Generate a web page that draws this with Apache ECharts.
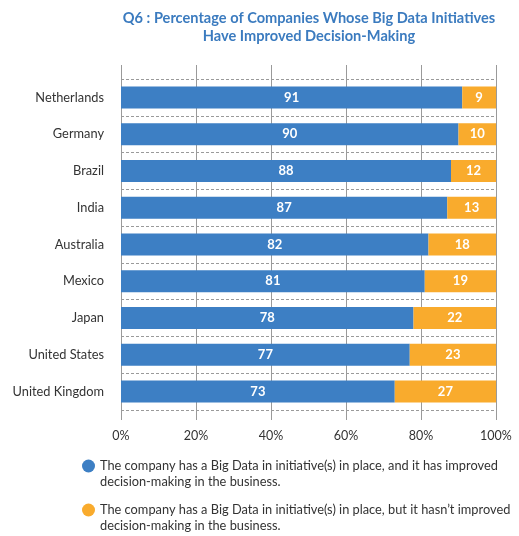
<!DOCTYPE html>
<html>
<head>
<meta charset="utf-8">
<script src="https://cdn.jsdelivr.net/npm/echarts@6/dist/echarts.min.js"></script>
<style>
  html, body { margin: 0; padding: 0; background: #fff; }
  #chart { width: 519px; height: 536px; }
</style>
</head>
<body>
<div id="chart"></div>
<script>
// countries, top to bottom
const countries = ['Netherlands', 'Germany', 'Brazil', 'India', 'Australia', 'Mexico', 'Japan', 'United States', 'United Kingdom'];
// improved decision-making (%)
const improved = [91, 90, 88, 87, 82, 81, 78, 77, 73];
// not improved (%)
const notImproved = [9, 10, 12, 13, 18, 19, 22, 23, 27];
const seriesNames = [
  'The company has a Big Data in initiative(s) in place, and it has improved\ndecision-making in the business.',
  'The company has a Big Data in initiative(s) in place, but it hasn\u2019t improved\ndecision-making in the business.'
];
const titleText = 'Q6 : Percentage of Companies Whose Big Data Initiatives\nHave Improved Decision-Making';

const FONT = 'Lato';
const BLUE = '#3d7fc4';
const ORANGE = '#f9ab2d';

let chart = echarts.init(document.getElementById('chart'));

let barLabel = {
  show: true,
  position: 'inside',
  color: '#fff',
  fontFamily: FONT,
  fontWeight: 'bold',
  fontSize: 13
};

let legendText = {
  fontFamily: FONT,
  fontSize: 12.8,
  color: '#333',
  lineHeight: 16
};

// blank first line so the icon sits beside the first text line
let legendFormatter = name => '\n' + name;

chart.setOption({
  animation: false,
  title: {
    text: titleText,
    left: 304,
    textAlign: 'center',
    top: 4,
    textStyle: {
      fontFamily: FONT,
      fontSize: 14.6,
      fontWeight: 'bold',
      color: '#3b7bbf',
      lineHeight: 18
    }
  },
  legend: [
    {
      data: [seriesNames[0]],
      orient: 'vertical',
      left: 82,
      top: 442,
      padding: 0,
      itemWidth: 13,
      itemHeight: 13,
      icon: 'circle',
      selectedMode: false,
      formatter: legendFormatter,
      textStyle: legendText
    },
    {
      data: [seriesNames[1]],
      orient: 'vertical',
      left: 82,
      top: 486,
      padding: 0,
      itemWidth: 13,
      itemHeight: 13,
      icon: 'circle',
      selectedMode: false,
      formatter: legendFormatter,
      textStyle: legendText
    }
  ],
  grid: [
    // back grid: vertical lines + percent labels
    { left: 121, right: 23, top: 65, bottom: 116 },
    // bars
    { left: 121, right: 23, top: 79, bottom: 126 }
  ],
  xAxis: [
    {
      gridIndex: 0,
      type: 'value',
      min: 0,
      max: 100,
      interval: 20,
      axisLine: { show: false },
      axisTick: { show: false },
      splitLine: { show: true, lineStyle: { color: '#9a9a9a', width: 1, type: 'solid' } },
      axisLabel: {
        formatter: '{value}%',
        margin: 9,
        fontFamily: FONT,
        fontSize: 12.5,
        color: '#333'
      }
    },
    {
      gridIndex: 1,
      type: 'value',
      min: 0,
      max: 100,
      show: false
    }
  ],
  yAxis: [
    {
      gridIndex: 0,
      type: 'value',
      show: false
    },
    {
      gridIndex: 1,
      type: 'category',
      inverse: true,
      data: countries,
      axisLine: { show: false },
      axisTick: { show: false },
      splitLine: { show: true, lineStyle: { color: '#9a9a9a', width: 1, type: [3, 2] } },
      axisLabel: {
        margin: 17,
        fontFamily: FONT,
        fontSize: 12.8,
        color: '#333'
      }
    }
  ],
  series: [
    {
      name: seriesNames[0],
      type: 'bar',
      xAxisIndex: 1,
      yAxisIndex: 1,
      stack: 'total',
      barWidth: 22,
      itemStyle: { color: BLUE },
      label: barLabel,
      data: improved
    },
    {
      name: seriesNames[1],
      type: 'bar',
      xAxisIndex: 1,
      yAxisIndex: 1,
      stack: 'total',
      barWidth: 22,
      itemStyle: { color: ORANGE },
      label: barLabel,
      data: notImproved
    }
  ]
});
</script>
</body>
</html>
